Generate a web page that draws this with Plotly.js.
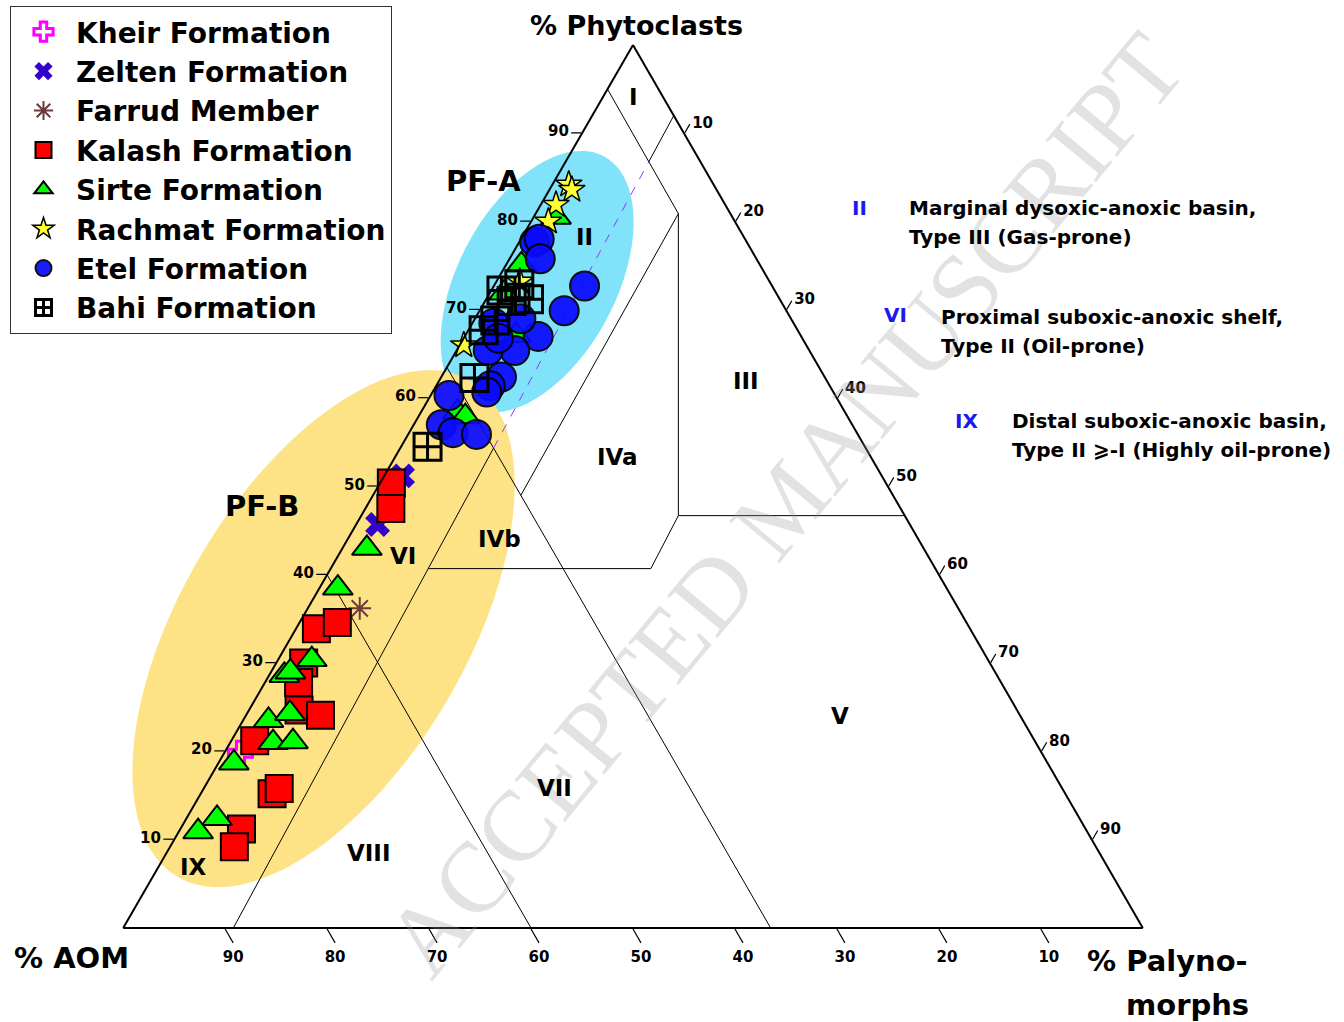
<!DOCTYPE html>
<html><head><meta charset="utf-8">
<script src="https://cdn.plot.ly/plotly-3.0.1.min.js"></script>
<style>html,body{margin:0;padding:0;background:#fff;}#chart{width:1344px;height:1022px;}</style>
</head><body><div id="chart"></div>
<script>
// ---------- data (percent: a = Phytoclasts, b = AOM, c = Palynomorphs) ----------
const kheirA = [19.8], kheirB = [78.6], kheirC = [1.6];
const zeltenA = [51.2, 45.7], zeltenB = [47.0, 52.2], zeltenC = [1.8, 2.1];
const farrudA = [36.2], farrudB = [58.7], farrudC = [5.1];
const kalashA = [50.4,47.5,33.9,34.6,30.0,27.8,24.7,24.1,21.2,15.2,15.8,11.2,9.2];
const kalashB = [48.5,50.0,64.1,61.7,67.3,68.9,70.4,68.6,76.5,77.8,76.8,82.8,84.5];
const kalashC = [1.1,2.5,2.0,3.7,2.7,3.3,4.9,7.3,2.3,7.0,7.4,6.0,6.3];
const sirteA = [80.5,75.1,71.9,67.1,58.4,57.9,43.0,38.5,30.4,28.6,29.0,23.5,24.3,21.0,21.1,18.7,12.4,10.9];
const sirteB = [17.3,23.4,26.7,27.9,38.0,37.5,54.6,59.7,66.3,69.9,69.1,74.0,71.5,74.8,72.8,79.8,84.6,87.2];
const sirteC = [2.2,1.5,1.4,5.0,3.6,4.6,2.4,1.8,3.3,1.5,1.9,2.5,4.2,4.2,6.1,1.5,3.0,1.9];
const rachA = [84.2,83.6,81.9,80.0,73.2,66.0];
const rachB = [14.2,14.2,16.6,18.3,24.5,33.6];
const rachC = [1.6,2.2,1.5,1.7,2.3,0.4];
const etelA = [77.7,78.0,75.8,72.7,69.9,67.0,69.0,68.5,65.4,65.4,62.4,61.4,60.7,60.3,57.0,56.1,55.9,66.8];
const etelB = [20.8,20.2,21.2,18.4,21.8,25.8,26.5,29.4,28.9,31.5,31.7,33.3,34.0,37.9,40.3,39.6,37.4,29.8];
const etelC = [1.5,1.8,3.0,8.9,8.3,7.2,4.5,2.1,5.7,3.1,5.9,5.3,5.3,1.8,2.7,4.3,6.7,3.4];
const bahiA = [72.2,72.9,71.2,71.0,68.8,67.7,62.3,54.5];
const bahiB = [26.8,24.7,24.6,26.4,29.1,30.8,34.4,42.9];
const bahiC = [1.0,2.4,4.2,2.6,2.1,1.5,3.3,2.6];

// field boundaries (ternary %)
const bndMainA = [95, 80.9, 46.7, 40.7, 40.7];
const bndMainB = [5, 5.1, 22.2, 27.9, 49.7];
const bndMainC = [0, 14.0, 31.1, 31.4, 9.6];
const bndRightA = [46.7, 46.7], bndRightB = [22.2, 0], bndRightC = [31.1, 53.3];
const bndIVaA = [80.9, 49.0], bndIVaB = [5.1, 36.5], bndIVaC = [14.0, 14.5];
const bndB36A = [63.5, 0], bndB36B = [36.5, 36.5], bndB36C = [0, 63.5];
const bndB60A = [40, 0], bndB60B = [60, 60], bndB60C = [0, 40];
const bndCLowA = [0, 54.35], bndCLowB = [89.2, 36.5], bndCLowC = [10.8, 9.15];
const bndCDashA = [54.35, 86.74], bndCDashB = [36.5, 5.1], bndCDashC = [9.15, 8.16];
const bndCTopA = [86.74, 92], bndCTopB = [5.1, 0], bndCTopC = [8.16, 8];

const tickVals = [10,20,30,40,50,60,70,80,90];

// ---------- layout geometry ----------
const W = 1344, H = 1022;
const TX0 = 123.2, TW = 1019.6, TYB = 928, TH = 883;
const FONT = 'DejaVu Sans';

function ternPx(a, b, c) {
  const s = a + b + c; const fa = a / s, fc = c / s;
  return [TX0 + fa * TW / 2 + fc * TW, TYB - fa * TH];
}
function ellipsePath(a, b, c, A, B, deg) {
  const [cx, cy] = ternPx(a, b, c);
  const th = deg * Math.PI / 180;
  let d = '';
  for (let i = 0; i <= 90; i++) {
    const t = i / 90 * 2 * Math.PI;
    const px = cx + A * Math.cos(t) * Math.cos(th) - B * Math.sin(t) * Math.sin(th);
    const py = cy - (A * Math.cos(t) * Math.sin(th) + B * Math.sin(t) * Math.cos(th));
    d += (i === 0 ? 'M' : 'L') + (px / W).toFixed(5) + ',' + (1 - py / H).toFixed(5);
  }
  return d + 'Z';
}

function lineTrace(A, B, C, color, dash) {
  return {type: 'scatterternary', mode: 'lines', a: A, b: B, c: C, showlegend: false,
    hoverinfo: 'skip', line: {color: color || 'black', width: 1, dash: dash || 'solid'}};
}
function ptTrace(name, A, B, C, marker, extra) {
  return Object.assign({type: 'scatterternary', mode: 'markers', name: name, legendgroup: name,
    a: A, b: B, c: C, marker: marker, cliponaxis: false, hoverinfo: 'skip'}, extra || {});
}

const traces = [
  lineTrace(bndMainA, bndMainB, bndMainC),
  lineTrace(bndRightA, bndRightB, bndRightC),
  lineTrace(bndIVaA, bndIVaB, bndIVaC),
  lineTrace(bndB36A, bndB36B, bndB36C),
  lineTrace(bndB60A, bndB60B, bndB60C),
  lineTrace(bndCLowA, bndCLowB, bndCLowC),
  lineTrace(bndCDashA, bndCDashB, bndCDashC, '#9933ff', 'dash'),
  lineTrace(bndCTopA, bndCTopB, bndCTopC),
  ptTrace('Kheir Formation', kheirA, kheirB, kheirC,
    {symbol: 'cross-open', size: 20, color: '#ff00ff', line: {width: 3, color: '#ff00ff'}}),
  ptTrace('Zelten Formation', zeltenA, zeltenB, zeltenC,
    {symbol: 'x', size: 22, color: '#3300cc', line: {width: 0}}),
  ptTrace('Farrud Member', farrudA, farrudB, farrudC,
    {symbol: 'asterisk-open', size: 19, color: '#6b3a3a', line: {width: 2, color: '#6b3a3a'}}),
  ptTrace('Kalash Formation', kalashA, kalashB, kalashC,
    {symbol: 'square', size: 27, color: '#ff0000', line: {width: 2, color: 'black'}}),
  ptTrace('Sirte Formation', sirteA, sirteB, sirteC,
    {symbol: 'triangle-up', size: 26, color: '#00ff00', line: {width: 2, color: 'black'}}),
  ptTrace('Rachmat Formation', rachA, rachB, rachC,
    {symbol: 'star', size: 20, color: '#ffff33', line: {width: 1.5, color: 'black'}}),
  ptTrace('Etel Formation', etelA, etelB, etelC,
    {symbol: 'circle', size: 29, color: '#0a0aff', opacity: 0.93, line: {width: 2, color: 'black'}}),
  ptTrace('Bahi Formation', bahiA, bahiB, bahiC,
    {symbol: 'square-cross-open', size: 27, color: 'black', line: {width: 3, color: 'black'}})
];

function axis(len) {
  return {min: 0, title: {text: ''}, showgrid: false, showline: true, linecolor: 'black', linewidth: 2,
    ticks: 'outside', ticklen: len || 10, tickwidth: 1.2, tickcolor: 'black', tickmode: 'array', tickvals: tickVals,
    tickfont: {family: FONT, size: 15, color: 'black', weight: 'bold'}};
}

function ann(text, x, y, size, opts) {
  return Object.assign({text: text, x: x / W, y: 1 - y / H, xref: 'paper', yref: 'paper', showarrow: false,
    xanchor: 'center', yanchor: 'middle', font: {family: FONT, size: size, color: 'black', weight: 'bold'}}, opts || {});
}
const BLUE = '#1a1aee';
const annotations = [
  ann('ACCEPTED MANUSCRIPT', 785, 505, 100, {textangle: -50.3,
    font: {family: 'Liberation Serif', size: 100, color: 'rgba(150,150,150,0.28)'}}),
  ann('% Phytoclasts', 636, 26, 27),
  ann('% AOM', 12, 958, 29, {xanchor: 'left'}),
  ann('% Palyno-', 1085, 961, 29, {xanchor: 'left'}),
  ann('morphs', 1251, 1005, 29, {xanchor: 'right'}),
  ann('PF-A', 483, 181, 29),
  ann('PF-B', 262, 506, 29),
  ann('I', 633, 97, 23), ann('II', 584, 237, 23), ann('III', 746, 381, 23),
  ann('IVa', 617, 457, 23), ann('IVb', 499, 539, 23), ann('V', 840, 716, 23),
  ann('VI', 403, 556, 23), ann('VII', 554, 788, 23), ann('VIII', 368, 853, 23),
  ann('IX', 194, 867, 23),
  ann('II', 860, 208, 20, {font: {family: FONT, size: 20, color: BLUE, weight: 'bold'}}),
  ann('Marginal dysoxic-anoxic basin,', 907, 208, 20, {xanchor: 'left'}),
  ann('Type III (Gas-prone)', 907, 237, 20, {xanchor: 'left'}),
  ann('VI', 895, 315, 20, {font: {family: FONT, size: 20, color: BLUE, weight: 'bold'}}),
  ann('Proximal suboxic-anoxic shelf,', 939, 317, 20, {xanchor: 'left'}),
  ann('Type II (Oil-prone)', 939, 346, 20, {xanchor: 'left'}),
  ann('IX', 966, 421, 20, {font: {family: FONT, size: 20, color: BLUE, weight: 'bold'}}),
  ann('Distal suboxic-anoxic basin,', 1010, 421, 20, {xanchor: 'left'}),
  ann('Type II \u2A7E-I (Highly oil-prone)', 1010, 450, 20, {xanchor: 'left'})
];

const shapes = [
  {type: 'path', xref: 'paper', yref: 'paper', layer: 'below', path: ellipsePath(73.2, 22.8, 4.0, 142, 79, 62),
    fillcolor: '#80e3fa', line: {width: 0}},
  {type: 'path', xref: 'paper', yref: 'paper', layer: 'below', path: ellipsePath(33.9, 63.4, 2.7, 288, 143, 59.5),
    fillcolor: '#fde386', line: {width: 0}}
];

const layout = {
  width: W, height: H, margin: {l: 0, r: 0, t: 0, b: 0}, paper_bgcolor: 'white',
  hovermode: false, showlegend: true,
  font: {family: FONT, color: 'black'},
  ternary: {
    sum: 100, bgcolor: 'rgba(0,0,0,0)',
    domain: {x: [123 / W, 1143 / W], y: [94 / H, 977 / H]},
    aaxis: axis(10), baxis: axis(16), caxis: axis(10)
  },
  legend: {x: 10 / W, y: 1 - 6 / H, xanchor: 'left', yanchor: 'top', bgcolor: 'white',
    bordercolor: '#333', borderwidth: 1, itemsizing: 'trace', itemwidth: 55, traceorder: 'normal', tracegroupgap: 7,
    font: {family: FONT, size: 28, color: 'black', weight: 'bold'}},
  shapes: shapes,
  annotations: annotations
};

Plotly.newPlot('chart', traces, layout, {displayModeBar: false, staticPlot: true});
</script></body></html>
